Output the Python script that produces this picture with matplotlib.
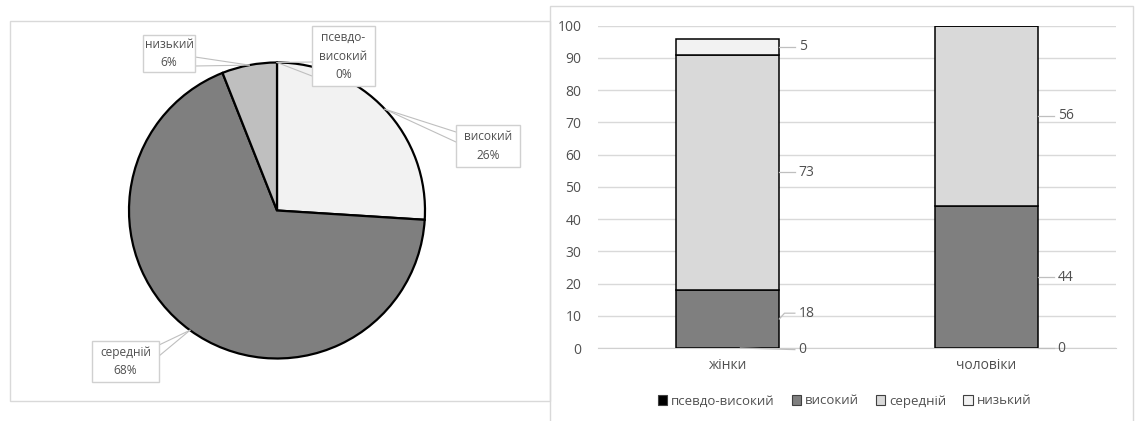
import matplotlib.pyplot as plt
from matplotlib.patches import Rectangle, Patch
import numpy as np

plt.rcParams['font.family'] = ['Open Sans', 'DejaVu Sans']

# pie data (percent)
pie_labels = ["псевдо-\nвисокий", "високий", "середній", "низький"]
pie_values = [0, 26, 68, 6]
pie_colors = ["#000000", "#f2f2f2", "#7f7f7f", "#bfbfbf"]

# stacked bar data
groups = ["жінки", "чоловіки"]
levels = ["псевдо-високий", "високий", "середній", "низький"]
pseudo_high = [0, 0]
high = [18, 44]
middle = [73, 56]
low = [5, 0]
yticks = list(range(0, 101, 10))
bar_colors = ["#000000", "#7f7f7f", "#d9d9d9", "#f2f2f2"]

TXT = "#505050"
W, H = 1136, 421
fig = plt.figure(figsize=(W / 100, H / 100), dpi=100)


def fx(x):
    return x / W


def fy(y):
    return 1 - y / H


# panel frames
fig.add_artist(Rectangle((fx(9.5), fy(401)), fx(540.5), 380 / H, transform=fig.transFigure,
                         fill=False, edgecolor="#d9d9d9", lw=1))
fig.add_artist(Rectangle((fx(550), -0.02), fx(583), 1.02 - 6 / H, transform=fig.transFigure,
                         fill=False, edgecolor="#d9d9d9", lw=1))

# ---- pie ----
cx, cy, R = 277, 210.5, 148
ax1 = fig.add_axes([fx(cx - R), fy(cy + R), 2 * R / W, 2 * R / H])
ax1.pie(pie_values, colors=pie_colors, startangle=90, counterclock=False, radius=1,
        wedgeprops=dict(edgecolor="black", linewidth=1.6))
ax1.set_xlim(-1, 1)
ax1.set_ylim(-1, 1)
ax1.set_aspect("auto")
ax1.axis("off")


def pd(px, py):
    return ((px - cx) / R, (cy - py) / R)


# label boxes: centre, size (px) and pointer base points (px)
boxes = [
    ((343.5, 56), (63, 60), [(312, 62), (312, 76)]),
    ((488, 146), (64, 42), [(456, 132), (456, 142)]),
    ((125.5, 361.5), (67, 41), [(159, 345), (159, 356)]),
    ((169, 53.5), (52, 37), [(195, 57), (195, 66)]),
]
cum = np.cumsum([0] + pie_values[:-1])
for i, (lab, val) in enumerate(zip(pie_labels, pie_values)):
    (bx, by), (bw, bh), bases = boxes[i]
    ang = np.deg2rad(90 - 360 * (cum[i] + val / 2) / 100)
    tip = (np.cos(ang), np.sin(ang))
    for b in bases:
        p = pd(*b)
        ax1.plot([tip[0], p[0]], [tip[1], p[1]], color="#bfbfbf", lw=0.8, clip_on=False, zorder=5)
    x0, y0 = pd(bx - bw / 2, by + bh / 2)
    ax1.add_patch(Rectangle((x0, y0), bw / R, bh / R, facecolor="white", edgecolor="#d0d0d0",
                            lw=1, clip_on=False, zorder=6))
    c = pd(bx, by)
    ax1.text(c[0], c[1], f"{lab}\n{val}%", ha="center", va="center", fontsize=8.6, color=TXT,
             linespacing=1.55, zorder=7, clip_on=False)

# ---- stacked bars ----
ax2 = fig.add_axes([fx(598), fy(348), 518 / W, 322.3 / H])
x = np.arange(len(groups))
series = [pseudo_high, high, middle, low]
bottom = np.zeros(len(groups))
mids = []
for vals, lab, col in zip(series, levels, bar_colors):
    vals = np.array(vals, dtype=float)
    ax2.bar(x, vals, 0.4, bottom=bottom, color=col, edgecolor="black", linewidth=1.1,
            label=lab, zorder=3)
    mids.append(bottom + vals / 2)
    bottom = bottom + vals

# value labels with leader lines
nudge = {(0, 0): -0.5, (0, 1): 1.8}
for si, vals in enumerate(series):
    for gi, v in enumerate(vals):
        if v == 0 and si != 0:
            continue
        ym = mids[si][gi]
        yl = ym + nudge.get((gi, si), 0)
        xr = x[gi] + 0.2
        if si == 0 and gi == 0:
            ax2.plot([x[gi] + 0.05, xr + 0.06], [0, yl], color="#bfbfbf", lw=0.9, clip_on=False, zorder=4)
        elif si == 0:
            ax2.plot([xr, xr + 0.06], [ym, yl], color="#bfbfbf", lw=0.9, clip_on=False, zorder=4)
        else:
            ax2.plot([xr, xr + 0.02, xr + 0.06], [ym, yl, yl], color="#bfbfbf", lw=0.9,
                     clip_on=False, zorder=4)
        ax2.text(xr + 0.075, yl, f"{v:g}", ha="left", va="center", fontsize=10, color=TXT)

ax2.set_xlim(-0.5, 1.5)
ax2.set_ylim(0, 100)
ax2.set_yticks(yticks)
ax2.set_xticks(x)
ax2.set_xticklabels(groups)
ax2.grid(axis="y", color="#d9d9d9", lw=1, zorder=0)
for s in ["top", "right", "left"]:
    ax2.spines[s].set_visible(False)
ax2.spines["bottom"].set_color("#d0d0d0")
ax2.tick_params(axis="both", length=0, labelsize=10, labelcolor=TXT)
ax2.tick_params(axis="y", pad=12)
ax2.tick_params(axis="x", pad=7)

handles = [Patch(facecolor=c, edgecolor="#404040", lw=0.8) for c in bar_colors]
fig.legend(handles, levels, loc="center", bbox_to_anchor=(fx(844.5), fy(401)), ncol=4,
           frameon=False, fontsize=9.5, labelcolor=TXT, handlelength=0.7, handleheight=0.7,
           handletextpad=0.3, columnspacing=1.3)

fig.savefig("out.png", dpi=100)
